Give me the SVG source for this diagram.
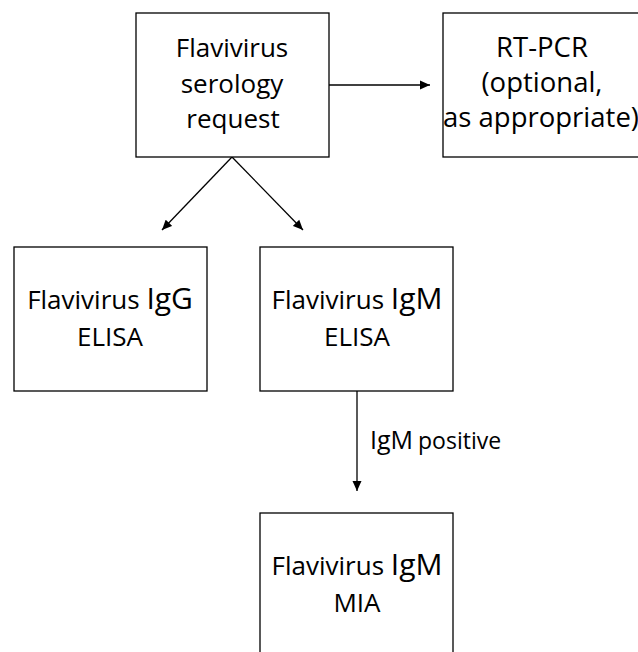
<svg xmlns="http://www.w3.org/2000/svg" width="638" height="652" viewBox="0 0 638 652">
<defs>
<marker id="ah" viewBox="0 0 10 10" refX="10" refY="5" markerWidth="10" markerHeight="10" markerUnits="userSpaceOnUse" orient="auto">
<path d="M0,0.5 L10,5 L0,9.5 Z" fill="#000"/>
</marker>
<style>
.box{fill:#fff;stroke:#000;stroke-width:1.3}
.t{font-family:"Open Sans","Noto Sans",sans-serif;font-size:26px;fill:#000;text-anchor:middle}
.t27{font-size:27.5px}
.big{font-size:30px}
.lbl{font-family:"Open Sans","Noto Sans",sans-serif;fill:#000}
.c{stroke:#000;stroke-width:1.3;fill:none;marker-end:url(#ah)}
</style>
</defs>
<rect width="638" height="652" fill="#fff"/>
<g id="connectors">
<line class="c" x1="329" y1="85" x2="430" y2="85"/>
<line class="c" x1="232" y1="157" x2="162" y2="230"/>
<line class="c" x1="232" y1="157" x2="303" y2="230"/>
<line class="c" x1="357" y1="391" x2="357" y2="491"/>
<text class="lbl" x="370" y="449"><tspan font-size="25">IgM</tspan><tspan font-size="23" dx="5">positive</tspan></text>
</g>
<g id="request">
<rect class="box" x="136" y="13" width="193" height="144"/>
<text class="t" x="232" y="57">Flavivirus</text>
<text class="t" x="232" y="93">serology</text>
<text class="t" x="233" y="128">request</text>
</g>
<g id="rtpcr">
<rect class="box" x="443" y="13" width="200" height="144"/>
<text class="t t27" x="542" y="57">RT-PCR</text>
<text class="t t27" x="542" y="92">(optional,</text>
<text class="t t27" x="541" y="127">as appropriate)</text>
</g>
<g id="igg">
<rect class="box" x="14" y="247" width="193" height="144"/>
<text class="t" x="110" y="309">Flavivirus <tspan class="big">IgG</tspan></text>
<text class="t" x="110" y="346">ELISA</text>
</g>
<g id="igm">
<rect class="box" x="260" y="247" width="193" height="144"/>
<text class="t" x="357" y="309">Flavivirus <tspan class="big">IgM</tspan></text>
<text class="t" x="357" y="346">ELISA</text>
</g>
<g id="mia">
<rect class="box" x="260" y="513" width="193" height="150"/>
<text class="t" x="357" y="575">Flavivirus <tspan class="big">IgM</tspan></text>
<text class="t" x="357" y="612">MIA</text>
</g>
</svg>
